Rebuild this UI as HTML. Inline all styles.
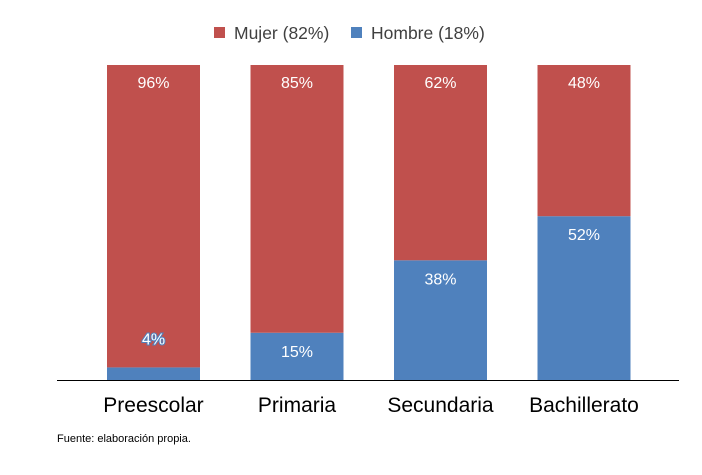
<!DOCTYPE html>
<html><head><meta charset="utf-8"><style>
body{margin:0;background:#fff;width:702px;height:470px;overflow:hidden;font-family:"Liberation Sans",sans-serif}
</style></head><body>
<svg id="chart" width="702" height="470" xmlns="http://www.w3.org/2000/svg">
<g>
<rect x="214" y="27" width="11" height="11" fill="#C0504D"/>
<text x="234" y="39" font-size="17.5" fill="#404040">Mujer (82%)</text>
<rect x="351" y="27" width="11" height="11" fill="#4F81BD"/>
<text x="371" y="39" font-size="17.5" fill="#404040">Hombre (18%)</text>
</g>
<g id="bars"></g>
<line x1="57" y1="380.5" x2="679" y2="380.5" stroke="#000" stroke-width="1"/>
<text x="57" y="442" font-size="11" fill="#000">Fuente: elaboración propia.</text>
</svg>
<script>
const categories=["Preescolar","Primaria","Secundaria","Bachillerato"];
const hombre=[4,15,38,52];
const mujer=[96,85,62,48];
const NS="http://www.w3.org/2000/svg";
const base=380, top0=65, x0=107, step=143.5, bw=93;
const y=v=>base-(base-top0)*v/100;
const g=document.getElementById('bars');
function mk(tag,attrs){const e=document.createElementNS(NS,tag);for(const k in attrs)e.setAttribute(k,attrs[k]);g.appendChild(e);return e;}
categories.forEach((c,i)=>{
  const x=x0+i*step;
  const h=hombre[i], m=mujer[i];
  const rb=mk('rect',{x:x,y:y(h),width:bw,height:base-y(h),fill:'#4F81BD'});
  
  
  const rm=mk('rect',{x:x,y:y(h+m),width:bw,height:y(h)-y(h+m),fill:'#C0504D'});
  
  
  const tm=mk('text',{x:x+bw/2,y:y(h+m)+23,'font-size':16,fill:'#fff','text-anchor':'middle'});
  tm.textContent=m+'%';
  
  
  const ly=h<10?y(h)-23:y(h)+24;
  const th=mk('text',{x:x+bw/2,y:ly,'font-size':16,fill:'#fff','text-anchor':'middle'});
  if(h<10){th.setAttribute('stroke','#4F81BD');th.setAttribute('stroke-width','2');th.setAttribute('paint-order','stroke');}
  th.textContent=h+'%';
  
  
  const tc=mk('text',{x:x+bw/2,y:412,'font-size':21,fill:'#000','text-anchor':'middle'});
  tc.textContent=c;
  
  
});
</script>
</body></html>
